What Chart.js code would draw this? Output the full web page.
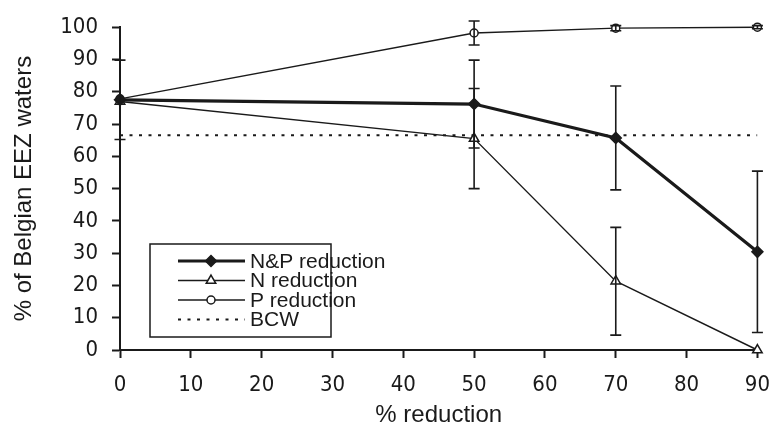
<!DOCTYPE html>
<html>
<head>
<meta charset="utf-8">
<script src="https://cdn.jsdelivr.net/npm/chart.js@4.4.1/dist/chart.umd.min.js"></script>
<style>
  html, body { margin: 0; padding: 0; background: #fff; }
  #wrap { width: 784px; height: 430px; }
</style>
</head>
<body>
<div id="wrap"><canvas id="chart" width="784" height="430"></canvas></div>
<script>
// data
const reductionPct = [0, 50, 70, 90];
const npReduction = [77.5, 76.2, 65.7, 30.4];
const npError = [12.3, 13.6, 16.1, 25];
const nReduction = [77, 65.5, 21.3, 0];
const nError = [0, 15.5, 16.7, 0];
const pReduction = [77.8, 98.2, 99.7, 100];
const pError = [0, 3.7, 0.8, 0.5];
const bcwLevel = 66.5;
const xTicks = [0, 10, 20, 30, 40, 50, 60, 70, 80, 90];
const yTicks = [0, 10, 20, 30, 40, 50, 60, 70, 80, 90, 100];

const ink = '#1a1a1a';
const tickFont = { family: '"DejaVu Sans Condensed", "Liberation Sans", sans-serif', size: 22 };
Chart.defaults.font.family = '"Liberation Sans", Arial, sans-serif';
Chart.defaults.color = ink;

function points(xs, ys) {
  return xs.map((x, i) => ({ x: x, y: ys[i] }));
}

// vertical error bars with caps
const errorBars = {
  id: 'errorBars',
  afterDatasetsDraw(chart) {
    const ctx = chart.ctx;
    const xs = chart.scales.x, ys = chart.scales.y;
    ctx.save();
    ctx.strokeStyle = ink;
    ctx.lineWidth = 1.6;
    chart.data.datasets.forEach(ds => {
      if (!ds.errors) return;
      ds.data.forEach((p, i) => {
        const e = ds.errors[i];
        if (!e) return;
        const px = xs.getPixelForValue(p.x);
        const top = ys.getPixelForValue(p.y + e);
        const bot = ys.getPixelForValue(Math.max(0, p.y - e));
        ctx.beginPath();
        ctx.moveTo(px, top); ctx.lineTo(px, bot);
        ctx.moveTo(px - 5.5, top); ctx.lineTo(px + 5.5, top);
        ctx.moveTo(px - 5.5, bot); ctx.lineTo(px + 5.5, bot);
        ctx.stroke();
      });
    });
    ctx.restore();
  }
};

// boxed legend with line + marker samples
const boxLegend = {
  id: 'boxLegend',
  afterDraw(chart) {
    const ctx = chart.ctx;
    const left = 150, top = 244, w = 181, h = 93;
    ctx.save();
    ctx.fillStyle = '#fff';
    ctx.fillRect(left, top, w, h);
    ctx.strokeStyle = ink;
    ctx.lineWidth = 1.5;
    ctx.strokeRect(left, top, w, h);
    ctx.font = '21px "Liberation Sans", Arial, sans-serif';
    ctx.textBaseline = 'middle';
    chart.data.datasets.forEach((ds, i) => {
      const y = top + 17 + i * 19.5;
      ctx.save();
      ctx.strokeStyle = ink;
      ctx.lineWidth = ds.borderWidth;
      ctx.setLineDash(ds.borderDash || []);
      ctx.beginPath();
      ctx.moveTo(left + 28, y); ctx.lineTo(left + 95, y);
      ctx.stroke();
      ctx.restore();
      if (ds.pointRadius > 0) {
        ctx.save();
        ctx.fillStyle = ds.pointBackgroundColor;
        ctx.strokeStyle = ds.pointBorderColor;
        ctx.lineWidth = ds.pointBorderWidth;
        Chart.helpers.drawPoint(ctx, {
          pointStyle: ds.pointStyle,
          radius: ds.pointRadius,
          borderWidth: ds.pointBorderWidth
        }, left + 61, y);
        ctx.restore();
      }
      ctx.fillStyle = ink;
      ctx.fillText(ds.label, left + 100, y + 1);
    });
    ctx.restore();
  }
};

new Chart(document.getElementById('chart'), {
  type: 'line',
  data: {
    datasets: [
      {
        label: 'N&P reduction',
        data: points(reductionPct, npReduction),
        errors: npError,
        borderColor: ink, borderWidth: 3.2,
        pointStyle: 'rectRot', pointRadius: 5.5,
        pointBackgroundColor: ink, pointBorderColor: ink, pointBorderWidth: 1.5,
        clip: false,
        order: 1
      },
      {
        label: 'N reduction',
        data: points(reductionPct, nReduction),
        errors: nError,
        borderColor: ink, borderWidth: 1.4,
        pointStyle: 'triangle', pointRadius: 5.5,
        pointBackgroundColor: '#fff', pointBorderColor: ink, pointBorderWidth: 1.5,
        clip: false,
        order: 2
      },
      {
        label: 'P reduction',
        data: points(reductionPct, pReduction),
        errors: pError,
        borderColor: ink, borderWidth: 1.4,
        pointStyle: 'circle', pointRadius: 4,
        pointBackgroundColor: '#fff', pointBorderColor: ink, pointBorderWidth: 1.5,
        clip: false,
        order: 3
      },
      {
        label: 'BCW',
        data: points([reductionPct[0], reductionPct[reductionPct.length - 1]], [bcwLevel, bcwLevel]),
        borderColor: ink, borderWidth: 2, borderDash: [3, 6.5],
        pointRadius: 0,
        order: 4
      }
    ]
  },
  options: {
    responsive: false,
    animation: false,
    layout: { padding: { top: 19, right: 13, left: 0, bottom: 0 } },
    plugins: {
      legend: { display: false },
      tooltip: { enabled: false }
    },
    elements: { line: { tension: 0 } },
    scales: {
      x: {
        type: 'linear', min: 0, max: 90,
        afterBuildTicks: s => { s.ticks = xTicks.map(v => ({ value: v })); },
        afterFit: s => { s.height = 80; },
        grid: { drawOnChartArea: false, tickLength: 8, tickWidth: 2, color: ink },
        border: { color: ink, width: 2 },
        ticks: { padding: 14, maxRotation: 0, font: tickFont },
        title: { display: true, text: '% reduction', padding: { top: 0, bottom: 0 }, font: { size: 24 } }
      },
      y: {
        type: 'linear', min: 0, max: 100,
        afterBuildTicks: s => { s.ticks = yTicks.map(v => ({ value: v })); },
        afterFit: s => { s.width = 120; },
        grid: { drawOnChartArea: false, tickLength: 8, tickWidth: 2, color: ink },
        border: { color: ink, width: 2 },
        ticks: { padding: 14, font: tickFont },
        title: { display: true, text: '% of Belgian EEZ waters', padding: { top: 10, bottom: 0 }, font: { size: 24 } }
      }
    }
  },
  plugins: [errorBars, boxLegend]
});
</script>
</body>
</html>
